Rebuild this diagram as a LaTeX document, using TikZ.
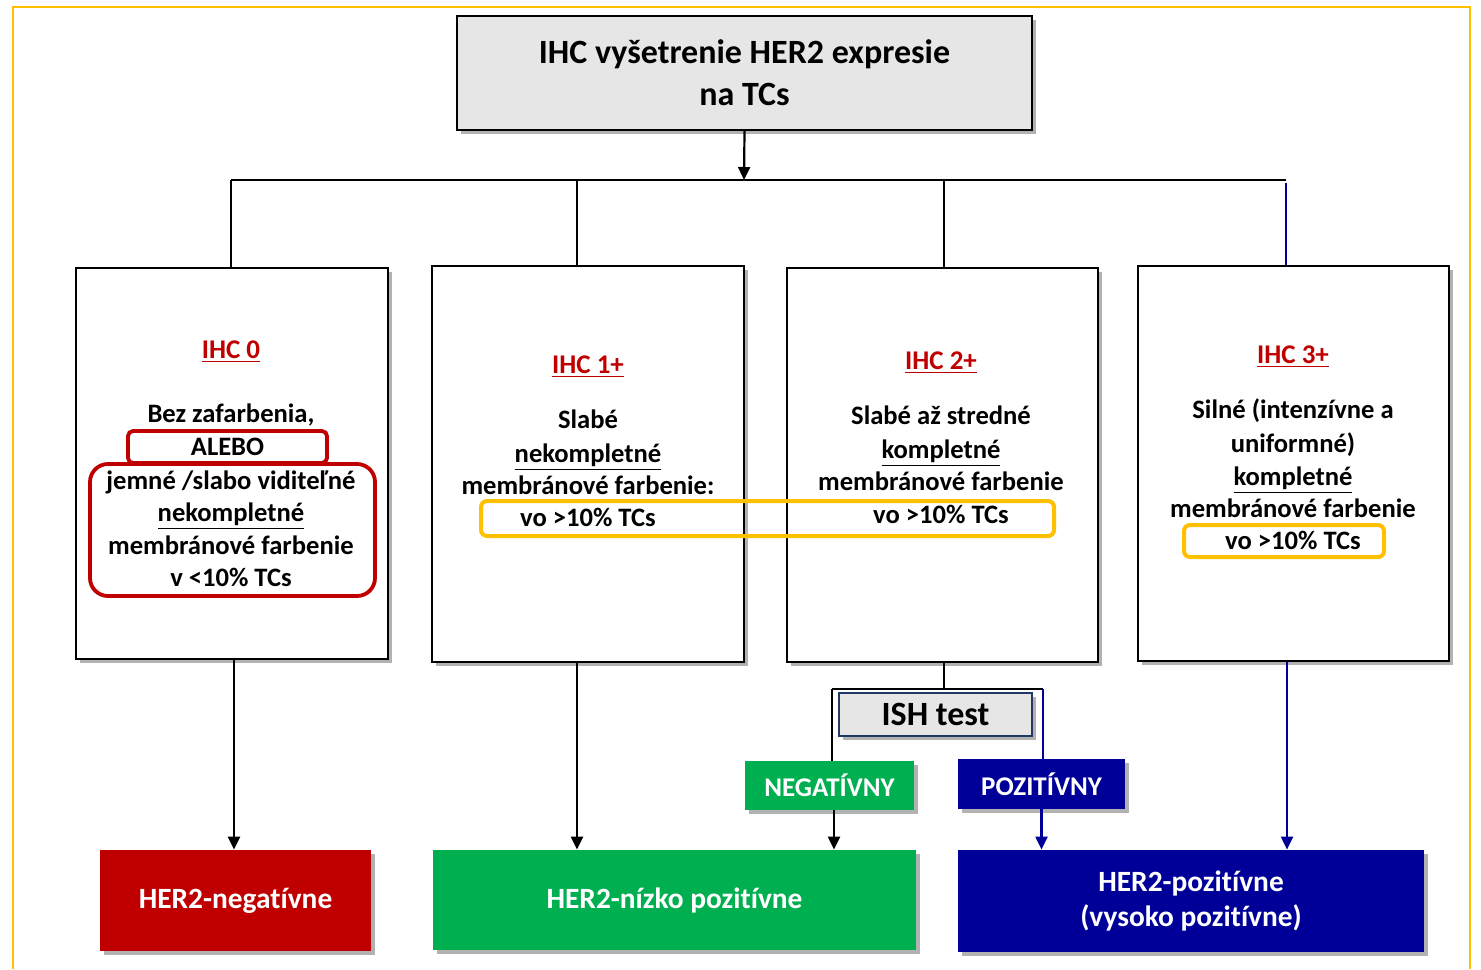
\documentclass[tikz,border=0pt]{standalone}
\usepackage{fontspec}
\setmainfont{Carlito}[Ligatures=NoCommon]
\usetikzlibrary{shadows,arrows.meta}
\definecolor{hred}{HTML}{C00000}
\definecolor{hgreen}{HTML}{00B050}
\definecolor{hnavy}{HTML}{000099}
\definecolor{hgold}{HTML}{FFC000}
\definecolor{hgray}{HTML}{E6E6E6}
\definecolor{hslate}{HTML}{203864}
\newcommand\uln[1]{\underline{#1}}
\tikzset{
  shade/.style={drop shadow={shadow xshift=2pt,shadow yshift=-2pt,opacity=0.3,fill=black}},
  topbox/.style={draw=black, line width=1.2pt, fill=hgray, shade, inner sep=0pt,
    align=center, font=\fontsize{17}{21}\selectfont\bfseries},
  catbox/.style={draw=black, line width=1.2pt, fill=white, shade, inner sep=0pt},
  ttl/.style={anchor=base, text=hred, font=\fontsize{13.5}{16}\selectfont\bfseries},
  txt/.style={anchor=base, font=\fontsize{13.3}{16}\selectfont\bfseries},
  redframe/.style={draw=hred, line width=1.9pt, inner sep=0pt},
  goldframe/.style={draw=hgold, line width=2pt, rounded corners=3pt, inner sep=0pt},
  ishbox/.style={draw=hslate, line width=1.2pt, fill=hgray, shade, inner sep=0pt,
    font=\fontsize{17}{20}\selectfont\bfseries},
  tagbox/.style={inner sep=0pt, shade, text=white, font=\fontsize{13.5}{16}\selectfont\bfseries},
  resbox/.style={inner sep=0pt, shade, text=white, align=center,
    font=\fontsize{14.7}{17.5}\selectfont\bfseries},
  lnk/.style={line width=1.1pt},
  arr/.style={line width=1.1pt, -{Triangle[length=6.5pt,width=6pt]}},
}
\begin{document}
\begin{tikzpicture}[x=0.5pt,y=-0.5pt]
\useasboundingbox (0,0) rectangle (1481,969);

% outer frame, open at the bottom
\draw[hgold, line width=1pt] (13,969) -- (13,7) -- (1470,7) -- (1470,969);

% header
\node[topbox, minimum width=287.5pt, minimum height=57pt] (top) at (744.5,73)
  {IHC vyšetrenie HER2 expresie\\na TCs};

% category boxes
\node[catbox, minimum width=156pt, minimum height=195.5pt] (b1) at (232,463.5) {};
\node[catbox, minimum width=156pt, minimum height=198pt] (b2) at (588,464) {};
\node[catbox, line width=0.75pt, minimum width=155.5pt, minimum height=197pt] (b3) at (942.5,465) {};
\node[catbox, minimum width=155.5pt, minimum height=197.5pt] (b4) at (1293.5,463.5) {};

% result boxes
\node[resbox, fill=hred, minimum width=135.5pt, minimum height=50.5pt] (neg) at (235.5,900.5) {HER2-negatívne};
\node[resbox, fill=hgreen, minimum width=241.5pt, minimum height=50pt] (low) at (674.5,900) {HER2-nízko pozitívne};
\node[resbox, fill=hnavy, minimum width=233pt, minimum height=51pt] (high) at (1191,901) {HER2-pozitívne\\(vysoko pozitívne)};

% ISH test and its outcomes
\node[ishbox, minimum width=96.5pt, minimum height=21.5pt] (ish) at (935.5,714.5) {ISH test};
\node[tagbox, fill=hgreen, minimum width=84.5pt, minimum height=24.5pt] (ishneg) at (829.5,785.5) {NEGATÍVNY};
\node[tagbox, fill=hnavy, minimum width=83.5pt, minimum height=25pt] (ishpos) at (1041.5,784) {POZITÍVNY};

% distribution bus below the header
\coordinate (bus) at (744,180);
\coordinate (busL) at (231,180);
\coordinate (busR) at (1286,180);
\draw[arr] (top.south) -- (bus);
\draw[lnk] (busL) -- (busR);
\draw[lnk] (busL) -- (busL |- b1.north);
\draw[lnk] ([xshift=-5.5pt]b2.north) -- ([xshift=-5.5pt]b2.north |- bus);
\draw[lnk] ([xshift=0.75pt]b3.north) -- ([xshift=0.75pt]b3.north |- bus);
\draw[lnk, hnavy] ([yshift=-1.5pt]busR) -- (busR |- b4.north);

% from categories to results
\draw[arr] ([xshift=1pt]b1.south) -- ([xshift=1pt]b1.south |- neg.north);
\draw[arr] ([xshift=-5.5pt]b2.south) -- ([xshift=-5.5pt]b2.south |- low.north);
\draw[arr, hnavy] ([xshift=-3.25pt]b4.south) -- ([xshift=-3.25pt]b4.south |- high.north);

% IHC 2+ through the ISH test
\coordinate (ishL) at (832,689);
\coordinate (ishR) at (1043,689);
\draw[lnk] ([xshift=0.75pt]b3.south) -- ([xshift=0.75pt]b3.south |- ishL);
\draw[lnk] (ishL) -- (ishR);
\draw[lnk] (ishL) -- (ishL |- ishneg.north);
\draw[lnk, hnavy] (ishR) -- (ishR |- ishpos.north);
\draw[arr] ([xshift=2.25pt]ishneg.south) -- ([xshift=2.25pt]ishneg.south |- low.north);
\draw[arr, hnavy] (ishpos.south) -- (ishpos.south |- high.north);

% highlight frames
\node[redframe, rounded corners=2.5pt, minimum width=99.5pt, minimum height=16pt] (alebo) at (227.5,447) {};
\node[redframe, rounded corners=9pt, minimum width=142.5pt, minimum height=66pt] (lowvis) at (232.5,530) {};
\node[goldframe, minimum width=286.5pt, minimum height=17.5pt] (gold1) at (767.5,518.5) {};
\node[goldframe, minimum width=100pt, minimum height=16pt] (gold2) at (1284,541) {};

% IHC 0
\node[ttl] (t1) at (231,358) {\uln{IHC 0}};
\node[txt] (t1a) at (231,422) {Bez zafarbenia,};
\node[txt, anchor=center] (t1b) at (alebo.center) {ALEBO};
\node[txt] (t1c) at (231,489) {jemné /slabo viditeľné};
\node[txt] (t1d) at (231,521) {\uln{nekompletné}};
\node[txt] (t1e) at (231,554) {membránové farbenie};
\node[txt] (t1f) at (231,586) {v <10\% TCs};

% IHC 1+
\node[ttl] (t2) at (588,373) {\uln{IHC 1+}};
\node[txt] (t2a) at (588,428) {Slabé};
\node[txt] (t2b) at (588,462) {\uln{nekompletné}};
\node[txt] (t2c) at (588,494) {membránové farbenie:};
\node[txt] (t2d) at (588,526) {vo >10\% TCs};

% IHC 2+
\node[ttl] (t3) at (941,369) {\uln{IHC 2+}};
\node[txt] (t3a) at (941,424) {Slabé až stredné};
\node[txt] (t3b) at (941,458) {\uln{kompletné}};
\node[txt] (t3c) at (941,490) {membránové farbenie};
\node[txt] (t3d) at (941,523) {vo >10\% TCs};

% IHC 3+
\node[ttl] (t4) at (1293,363) {\uln{IHC 3+}};
\node[txt] (t4a) at (1293,418) {Silné (intenzívne a};
\node[txt] (t4b) at (1293,452) {uniformné)};
\node[txt] (t4c) at (1293,485) {\uln{kompletné}};
\node[txt] (t4d) at (1293,517) {membránové farbenie};
\node[txt] (t4e) at (1293,549) {vo >10\% TCs};
\end{tikzpicture}
\end{document}
